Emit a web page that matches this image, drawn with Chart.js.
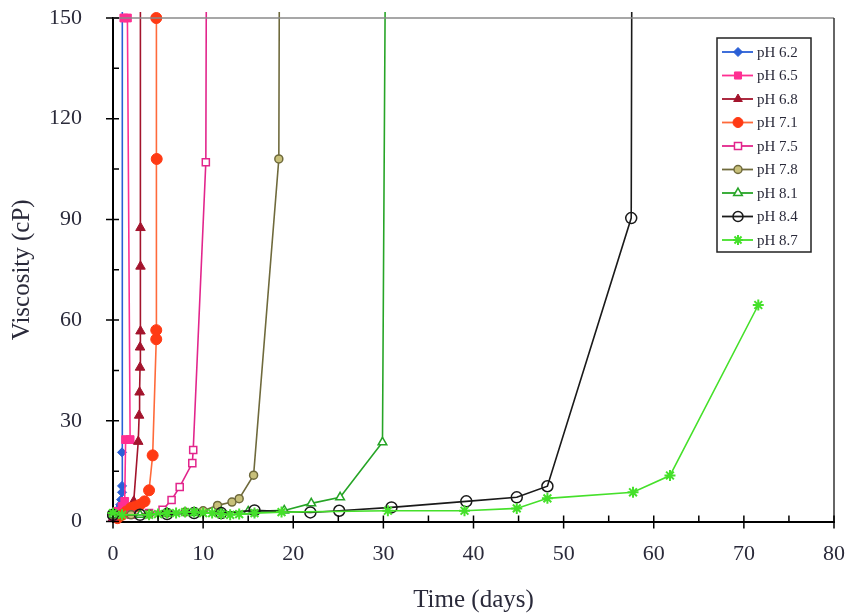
<!DOCTYPE html>
<html><head><meta charset="utf-8">
<script src="https://cdn.jsdelivr.net/npm/chart.js@4.4.1/dist/chart.umd.min.js"></script>
<style>html,body{margin:0;padding:0;background:#fff;}#wrap{width:847px;height:615px;}</style>
</head><body><div id="wrap"><canvas id="c" width="847" height="615"></canvas></div>
<script>
// ---- data ----
const seriesLabels = ['pH 6.2','pH 6.5','pH 6.8','pH 7.1','pH 7.5','pH 7.8','pH 8.1','pH 8.4','pH 8.7'];
const ph62Days = [0, 0.5, 0.8, 0.9, 1.0, 1.0, 1.0, 1.1];
const ph62Visc = [2.5, 3.5, 5, 6.5, 8.7, 10.6, 20.6, 200];
const ph65Days = [0, 0.5, 1.0, 1.3, 1.4, 1.9, 1.6, 1.2];
const ph65Visc = [2, 3, 4.5, 6, 24.4, 24.4, 150, 150];
const ph68Days = [0, 1, 2, 2.3, 2.8, 2.9, 2.95, 3.0, 3.0, 3.05, 3.05, 3.05, 3.05];
const ph68Visc = [1, 2, 3.5, 6, 23.8, 31.6, 38.5, 45.9, 51.9, 56.7, 76, 87.5, 200];
const ph71Days = [0.5, 1, 1.5, 2, 2.5, 3, 3.5, 4.0, 4.4, 4.8, 4.8, 4.85, 4.8];
const ph71Visc = [1, 2, 3, 4, 4.5, 5, 6, 9.3, 19.7, 54.3, 57, 108, 150];
const ph75Days = [0, 2, 4, 5.5, 6.5, 7.4, 8.8, 8.9, 10.3, 10.4];
const ph75Visc = [1.5, 2, 2.5, 3.5, 6.4, 10.3, 17.4, 21.3, 107, 200];
const ph78Days = [0, 2, 4, 6, 8, 10, 11.6, 13.2, 14.0, 15.6, 18.4, 18.5];
const ph78Visc = [2, 2, 2.2, 2.5, 2.8, 3.2, 4.8, 5.8, 6.8, 13.8, 108, 200];
const ph81Days = [0, 3, 6, 9, 12, 15, 19, 22, 25.2, 29.9, 30.3];
const ph81Visc = [2, 2, 2.5, 2.5, 2.8, 3, 3.3, 5.4, 7.2, 23.6, 200];
const ph84Days = [0, 3, 6, 9, 12, 15.7, 21.9, 25.1, 30.9, 39.2, 44.8, 48.2, 57.5, 57.6];
const ph84Visc = [2, 2, 2.2, 2.5, 2.5, 3.3, 2.7, 3.2, 4.2, 6, 7.2, 10.5, 90.4, 200];
const ph87Days = [0, 1, 4, 5, 6, 7, 8, 9, 10, 11, 12, 13, 14, 15.7, 18.7, 30.5, 39, 44.8, 48.2, 57.7, 61.8, 71.6];
const ph87Visc = [2.5, 2, 2, 2.2, 2.5, 2.5, 2.8, 2.8, 2.5, 2.5, 2.2, 2, 2.2, 2.5, 2.8, 3.2, 3.2, 3.9, 6.9, 8.7, 13.7, 64.5];
const xTickValues = [0, 10, 20, 30, 40, 50, 60, 70, 80];
const xMinorValues = [5, 15, 25, 35, 45, 55, 65, 75];
const yTickValues = [0, 30, 60, 90, 120, 150];
const yMinorValues = [15, 45, 75, 105, 135];
const xTitle = 'Time (days)';
const yTitle = 'Viscosity (cP)';

// ---- styles ----
const allDays = [ph62Days, ph65Days, ph68Days, ph71Days, ph75Days, ph78Days, ph81Days, ph84Days, ph87Days];
const allVisc = [ph62Visc, ph65Visc, ph68Visc, ph71Visc, ph75Visc, ph78Visc, ph81Visc, ph84Visc, ph87Visc];
const styles = [
  {line:'#2a5fd6', pb:'#2a5fd6', pf:'#2a5fd6', ps:'rectRot', r:4.5, bw:1},
  {line:'#ff2f92', pb:'#ff2f92', pf:'#ff2f92', ps:'rect', r:5.5, bw:1},
  {line:'#a3142c', pb:'#a3142c', pf:'#a3142c', ps:'triangle', r:5.5, bw:1},
  {line:'#ff6a3a', pb:'#ff3a14', pf:'#ff3a14', ps:'circle', r:5.5, bw:1},
  {line:'#e2258c', pb:'#e2258c', pf:'#ffffff', ps:'rect', r:5, bw:1.5},
  {line:'#6f6a3c', pb:'#6f6a3c', pf:'#c8c07a', ps:'circle', r:4, bw:1.5},
  {line:'#27a527', pb:'#27a527', pf:'#ffffff', ps:'triangle', r:5, bw:1.5},
  {line:'#1a1a1a', pb:'#1a1a1a', pf:'rgba(255,255,255,0)', ps:'circle', r:5.5, bw:1.5},
  {line:'#45e02a', pb:'#45e02a', pf:'#45e02a', ps:'star', r:5.5, bw:2}
];
const datasets = seriesLabels.map((lab, i) => ({
  label: lab,
  data: allDays[i].map((d, k) => ({x: d, y: allVisc[i][k]})),
  borderColor: styles[i].line,
  backgroundColor: styles[i].pf,
  pointBackgroundColor: styles[i].pf,
  pointBorderColor: styles[i].pb,
  pointStyle: styles[i].ps,
  pointRadius: styles[i].r,
  pointBorderWidth: styles[i].bw,
  borderWidth: 1.6,
  tension: 0,
  showLine: true,
  clip: 6,
  order: seriesLabels.length - i
}));

const serif = '"Liberation Serif", "DejaVu Serif", serif';
const txtColor = '#2a2a3a';
const target = {left: 113, top: 18, right: 834, bottom: 521.5};

const framePlugin = {
  id: 'frame',
  afterDatasetsDraw(chart) {
    const {ctx, chartArea: a, scales: {x, y}} = chart;
    ctx.save();
    ctx.lineWidth = 1.5;
    ctx.strokeStyle = '#8a8a8a';
    ctx.beginPath(); ctx.moveTo(a.left, a.top); ctx.lineTo(a.right, a.top); ctx.stroke();
    ctx.strokeStyle = '#333';
    ctx.beginPath(); ctx.moveTo(a.right, a.top); ctx.lineTo(a.right, a.bottom); ctx.stroke();
    ctx.strokeStyle = '#000';
    ctx.lineWidth = 1.5;
    ctx.beginPath();
    xTickValues.forEach(v => { const p = x.getPixelForValue(v); ctx.moveTo(p, a.bottom - 6); ctx.lineTo(p, a.bottom + 7); });
    xMinorValues.forEach(v => { const p = x.getPixelForValue(v); ctx.moveTo(p, a.bottom - 6); ctx.lineTo(p, a.bottom); });
    yTickValues.forEach(v => { const p = y.getPixelForValue(v); ctx.moveTo(a.left - 7, p); ctx.lineTo(a.left + 6, p); });
    yMinorValues.forEach(v => { const p = y.getPixelForValue(v); ctx.moveTo(a.left, p); ctx.lineTo(a.left + 6, p); });
    ctx.stroke();

    // legend
    const lx = a.right - 117, ly = a.top + 20, lw = 94, lh = 214;
    ctx.fillStyle = '#fff';
    ctx.fillRect(lx, ly, lw, lh);
    ctx.strokeStyle = '#222';
    ctx.lineWidth = 1.5;
    ctx.strokeRect(lx, ly, lw, lh);
    ctx.font = '15px ' + serif;
    ctx.textBaseline = 'middle';
    ctx.textAlign = 'left';
    chart.data.datasets.forEach((ds, i) => {
      const cy = ly + 14 + i * 23.5;
      ctx.strokeStyle = ds.borderColor;
      ctx.lineWidth = 1.8;
      ctx.beginPath(); ctx.moveTo(lx + 5, cy); ctx.lineTo(lx + 36, cy); ctx.stroke();
      ctx.fillStyle = ds.pointBackgroundColor;
      ctx.strokeStyle = ds.pointBorderColor;
      ctx.lineWidth = ds.pointBorderWidth;
      Chart.helpers.drawPoint(ctx, {pointStyle: ds.pointStyle, radius: Math.min(ds.pointRadius, 5), rotation: 0, borderWidth: ds.pointBorderWidth}, lx + 21, cy);
      ctx.fillStyle = txtColor;
      ctx.fillText(ds.label, lx + 40, cy + 1);
    });
    ctx.restore();
  }
};

const chart = new Chart(document.getElementById('c'), {
  type: 'scatter',
  data: {datasets},
  options: {
    responsive: false,
    animation: false,
    layout: {padding: {top: 18, right: 13, left: 0, bottom: 0}},
    plugins: {legend: {display: false}, tooltip: {enabled: false}},
    scales: {
      x: {
        type: 'linear', min: 0, max: 80,
        afterBuildTicks: s => { s.ticks = xTickValues.map(v => ({value: v})); },
        afterFit: s => { s.height = 93.5; s.paddingLeft = 0; s.paddingRight = 0; },
        grid: {display: false, drawTicks: false},
        border: {display: true, color: '#000', width: 2},
        ticks: {font: {family: serif, size: 22}, color: txtColor, padding: 20, maxRotation: 0},
        title: {display: true, text: xTitle, font: {family: serif, size: 25}, color: txtColor, padding: {top: 0, bottom: 0}}
      },
      y: {
        type: 'linear', min: 0, max: 150,
        afterBuildTicks: s => { s.ticks = yTickValues.map(v => ({value: v})); },
        afterFit: s => { s.width = 113; s.paddingTop = 0; s.paddingBottom = 0; },
        grid: {display: false, drawTicks: false},
        border: {display: true, color: '#000', width: 2},
        ticks: {font: {family: serif, size: 22}, color: txtColor, padding: 31},
        title: {display: true, text: yTitle, font: {family: serif, size: 25}, color: txtColor, padding: {top: 7, bottom: 0}}
      }
    }
  },
  plugins: [framePlugin]
});
// correct any layout drift so the plot area lands where the reference has it
for (let k = 0; k < 3; k++) {
  const a = chart.chartArea, p = chart.options.layout.padding;
  const dt = a.top - target.top, dr = target.right - a.right;
  if (Math.abs(dt) < 0.5 && Math.abs(dr) < 0.5) break;
  p.top -= dt; p.right -= dr;
  chart.update();
}
</script></body></html>
